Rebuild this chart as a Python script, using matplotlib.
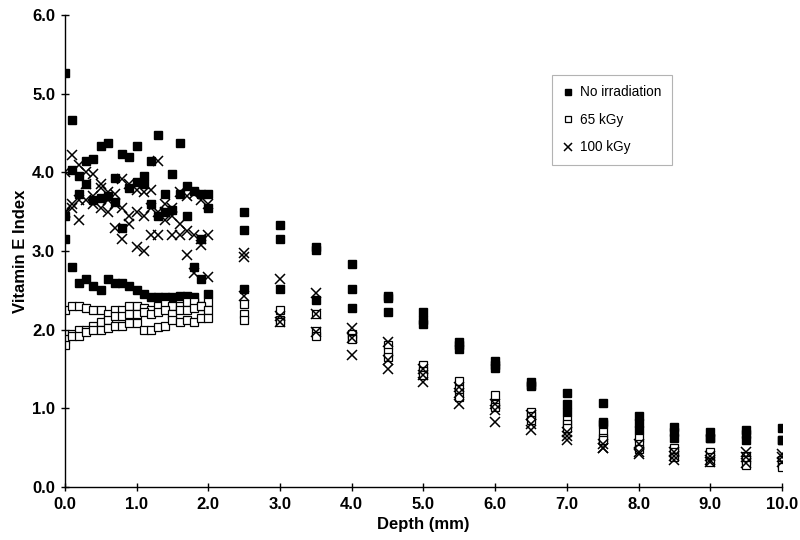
import numpy as np
import matplotlib
matplotlib.use("Agg")
import matplotlib.pyplot as plt

depths = [0.0, 0.1, 0.2, 0.3, 0.4, 0.5, 0.6, 0.7, 0.8, 0.9, 1.0,
          1.1, 1.2, 1.3, 1.4, 1.5, 1.6, 1.7, 1.8, 1.9, 2.0,
          2.5, 3.0, 3.5, 4.0, 4.5, 5.0, 5.5, 6.0, 6.5, 7.0,
          7.5, 8.0, 8.5, 9.0, 9.5, 10.0]

# No irradiation (three samples)
none_a = [5.27, 4.67, 3.95, 4.15, 4.17, 4.33, 4.37, 3.93, 4.23, 4.20, 4.33,
          3.95, 4.15, 4.47, 3.72, 3.98, 4.37, 3.83, 3.77, 3.72, 3.72,
          3.50, 3.33, 3.05, 2.83, 2.43, 2.23, 1.85, 1.60, 1.33, 1.20,
          1.07, 0.90, 0.77, 0.70, 0.73, 0.75]
none_b = [3.45, 4.03, 3.72, 3.85, 3.65, 3.67, 3.70, 3.62, 3.30, 3.80, 3.88,
          3.85, 3.60, 3.45, 3.50, 3.52, 3.72, 3.45, 2.80, 3.15, 3.55,
          3.27, 3.15, 3.02, 2.52, 2.40, 2.12, 1.80, 1.55, 1.30, 1.05,
          0.83, 0.82, 0.70, 0.62, 0.68, 0.60]
none_c = [3.15, 2.80, 2.60, 2.65, 2.55, 2.50, 2.65, 2.60, 2.60, 2.55, 2.50,
          2.45, 2.42, 2.42, 2.42, 2.42, 2.43, 2.43, 2.42, 2.65, 2.45,
          2.52, 2.52, 2.38, 2.28, 2.22, 2.07, 1.75, 1.52, 1.28, 0.95,
          0.80, 0.72, 0.62, 0.62, 0.60, 0.60]

# 65 kGy
k65_a = [2.25, 2.30, 2.30, 2.28, 2.25, 2.25, 2.20, 2.25, 2.25, 2.30, 2.30,
         2.28, 2.25, 2.30, 2.33, 2.30, 2.30, 2.35, 2.35, 2.30, 2.35,
         2.33, 2.25, 2.20, 1.95, 1.80, 1.55, 1.35, 1.17, 0.95, 0.85,
         0.70, 0.62, 0.50, 0.45, 0.40, 0.35]
k65_b = [1.88, 1.95, 2.00, 2.00, 2.05, 2.10, 2.12, 2.18, 2.17, 2.20, 2.20,
         2.22, 2.20, 2.22, 2.25, 2.20, 2.25, 2.25, 2.28, 2.30, 2.25,
         2.20, 2.13, 1.98, 1.90, 1.72, 1.48, 1.25, 1.05, 0.90, 0.80,
         0.62, 0.55, 0.45, 0.38, 0.35, 0.28]
k65_c = [1.80, 1.92, 1.92, 1.97, 2.00, 2.00, 2.02, 2.05, 2.05, 2.08, 2.08,
         2.00, 2.00, 2.03, 2.05, 2.12, 2.10, 2.12, 2.10, 2.15, 2.15,
         2.12, 2.10, 1.92, 1.88, 1.65, 1.42, 1.15, 1.02, 0.85, 0.75,
         0.60, 0.48, 0.38, 0.32, 0.28, 0.25]

# 100 kGy
k100_a = [4.00, 4.22, 4.10, 4.00, 3.98, 3.85, 3.75, 3.60, 3.92, 3.85, 3.78,
          3.75, 3.78, 4.15, 3.60, 3.55, 3.75, 3.70, 3.72, 3.65, 3.60,
          2.97, 2.65, 2.47, 2.02, 1.85, 1.50, 1.27, 1.05, 0.92, 0.70,
          0.55, 0.55, 0.45, 0.40, 0.45, 0.42]
k100_b = [3.50, 3.55, 3.65, 3.85, 3.70, 3.80, 3.65, 3.72, 3.55, 3.45, 3.50,
          3.45, 3.55, 3.50, 3.50, 3.45, 3.35, 3.25, 3.20, 3.15, 3.20,
          2.93, 2.18, 2.20, 1.90, 1.62, 1.42, 1.20, 0.98, 0.80, 0.65,
          0.50, 0.45, 0.40, 0.35, 0.38, 0.38]
k100_c = [3.48, 3.60, 3.40, 3.65, 3.60, 3.55, 3.50, 3.30, 3.15, 3.35, 3.05,
          3.00, 3.20, 3.20, 3.40, 3.20, 3.20, 2.95, 2.72, 3.08, 2.67,
          2.43, 2.10, 1.97, 1.68, 1.50, 1.33, 1.05, 0.83, 0.72, 0.60,
          0.50, 0.42, 0.35, 0.32, 0.30, 0.32]

x_ticks = [0.0, 1.0, 2.0, 3.0, 4.0, 5.0, 6.0, 7.0, 8.0, 9.0, 10.0]
y_ticks = [0.0, 1.0, 2.0, 3.0, 4.0, 5.0, 6.0]

plt.rcParams['font.family'] = ['Liberation Sans', 'DejaVu Sans']

fig = plt.figure(figsize=(8, 5.4), dpi=100)
ax = fig.add_axes([0.081, 0.098, 0.8965, 0.874])

ms = 5.5
for i, ys in enumerate([none_a, none_b, none_c]):
    ax.plot(depths, ys, linestyle='none', marker='s', markersize=ms,
            color='black', label='No irradiation' if i == 0 else None)
for i, ys in enumerate([k65_a, k65_b, k65_c]):
    ax.plot(depths, ys, linestyle='none', marker='s', markersize=ms,
            markerfacecolor='white', markeredgecolor='black', markeredgewidth=0.9,
            label='65 kGy' if i == 0 else None)
for i, ys in enumerate([k100_a, k100_b, k100_c]):
    ax.plot(depths, ys, linestyle='none', marker='x', markersize=6.5,
            markeredgewidth=1.1, color='black', label='100 kGy' if i == 0 else None)

ax.set_xlim(0, 10)
ax.set_ylim(0, 6)
ax.set_xticks(x_ticks)
ax.set_xticklabels([f"{v:.1f}" for v in x_ticks], fontsize=12, fontweight='bold')
ax.set_yticks(y_ticks)
ax.set_yticklabels([f"{v:.1f}" for v in y_ticks], fontsize=12, fontweight='bold')
ax.tick_params(direction='inout', length=6, width=1, pad=4)

for s in ['top', 'right']:
    ax.spines[s].set_visible(False)
for s in ['left', 'bottom']:
    ax.spines[s].set_linewidth(1.0)

ax.set_xlabel("Depth (mm)", fontsize=12, fontweight='bold', labelpad=4)
ax.set_ylabel("Vitamin E Index", fontsize=12, fontweight='bold', labelpad=3)

leg = ax.legend(loc='upper left', bbox_to_anchor=(0.68, 0.873), fontsize=9.8,
                frameon=True, fancybox=False, edgecolor='#a0a0a0',
                handlelength=0.8, handletextpad=0.5, labelspacing=1.0,
                borderpad=0.75, borderaxespad=0, markerscale=0.85)
leg.get_frame().set_linewidth(0.8)

plt.savefig("out.png", dpi=100)
plt.close()
